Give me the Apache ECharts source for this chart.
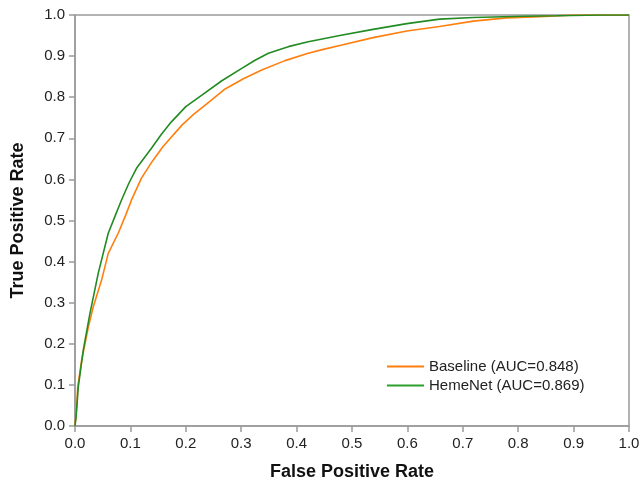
<!DOCTYPE html>
<html>
<head>
<meta charset="utf-8">
<script src="https://cdn.jsdelivr.net/npm/echarts@6/dist/echarts.min.js"></script>
<style>
html,body{margin:0;padding:0;background:#fff;}
#chart{width:642px;height:484px;}
</style>
</head>
<body>
<div id="chart"></div>
<script>
var seriesNames = ['Baseline (AUC=0.848)', 'HemeNet (AUC=0.869)'];
var axisTicks = [0, 0.1, 0.2, 0.3, 0.4, 0.5, 0.6, 0.7, 0.8, 0.9, 1.0];

var fprBaseline = [0, 0.003, 0.005, 0.012, 0.024, 0.033, 0.048, 0.06, 0.078, 0.0915, 0.102, 0.12, 0.14, 0.159, 0.193, 0.214, 0.235, 0.271, 0.304, 0.337, 0.379, 0.421, 0.45, 0.478, 0.538, 0.599, 0.658, 0.719, 0.779, 0.839, 0.9, 1.0];
var tprBaseline = [0, 0.047, 0.096, 0.16, 0.24, 0.29, 0.355, 0.42, 0.469, 0.513, 0.55, 0.603, 0.645, 0.68, 0.732, 0.758, 0.781, 0.82, 0.845, 0.866, 0.889, 0.907, 0.917, 0.926, 0.945, 0.961, 0.972, 0.985, 0.993, 0.996, 1.0, 1.0];

var fprHemeNet = [0, 0.002, 0.006, 0.015, 0.027, 0.042, 0.06, 0.073, 0.084, 0.097, 0.111, 0.138, 0.156, 0.174, 0.2, 0.229, 0.265, 0.301, 0.325, 0.349, 0.385, 0.421, 0.478, 0.538, 0.599, 0.658, 0.719, 0.809, 0.869, 0.95, 1.0];
var tprHemeNet = [0, 0.023, 0.096, 0.185, 0.274, 0.372, 0.469, 0.513, 0.55, 0.59, 0.627, 0.676, 0.71, 0.74, 0.777, 0.805, 0.84, 0.87, 0.89, 0.907, 0.923, 0.935, 0.95, 0.965, 0.979, 0.99, 0.994, 0.997, 0.998, 1.0, 1.0];

function zip(xs, ys) { return xs.map(function (x, i) { return [x, ys[i]]; }); }

var FONT = '"Liberation Sans", Arial, Helvetica, sans-serif';
var frameColor = '#9a9a9a';

function valAxis(name, isX) {
  return {
    type: 'value', min: 0, max: 1, interval: 0.1,
    name: name, nameLocation: 'middle',
    nameGap: isX ? 37 : 48,
    nameTextStyle: { fontFamily: FONT, fontSize: 18, fontWeight: 'bold', color: '#111' },
    axisLine: { show: true, lineStyle: { color: frameColor, width: 1.5 } },
    axisTick: { show: true, inside: false, length: 6, lineStyle: { color: frameColor, width: 1.5 } },
    axisLabel: { fontFamily: FONT, fontSize: 15, color: '#222', margin: isX ? 10.5 : 10,
      formatter: function (v) { return v.toFixed(1); } },
    splitLine: { show: false }
  };
}

var chart = echarts.init(document.getElementById('chart'), null, { renderer: 'canvas' });
chart.setOption({
  backgroundColor: '#fff',
  animation: false,
  grid: { left: 75, top: 15, width: 554, height: 411, containLabel: false, outerBoundsMode: 'none',
    show: true, borderColor: frameColor, borderWidth: 1.5, backgroundColor: 'transparent' },
  xAxis: valAxis('False Positive Rate', true),
  yAxis: valAxis('True Positive Rate', false),
  legend: {
    orient: 'vertical', left: 387, top: 359, padding: 0, itemGap: 4,
    itemWidth: 37, itemHeight: 2, icon: 'rect',
    textStyle: { fontFamily: FONT, fontSize: 15, color: '#222', lineHeight: 15 },
    data: seriesNames
  },
  series: [
    { name: seriesNames[0], type: 'line', data: zip(fprBaseline, tprBaseline), showSymbol: false, symbol: 'none',
      lineStyle: { color: '#ff7f0e', width: 1.6 }, itemStyle: { color: '#ff7f0e' }, clip: true, z: 2 },
    { name: seriesNames[1], type: 'line', data: zip(fprHemeNet, tprHemeNet), showSymbol: false, symbol: 'none',
      lineStyle: { color: '#228b22', width: 1.6 }, itemStyle: { color: '#2ca02c' }, clip: true, z: 3 }
  ]
});
</script>
</body>
</html>
